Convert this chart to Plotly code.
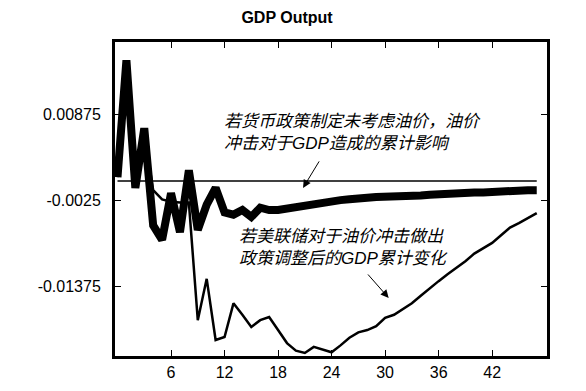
import plotly.graph_objects as go

periods = list(range(0, 48))

no_policy_response = [
    0.0005, 0.0158, -0.0009, 0.0069, -0.0058, -0.0077, -0.0016, -0.0067,
    0.0014, -0.0064, -0.0031, -0.0009, -0.0041, -0.0044, -0.0038, -0.0047,
    -0.0035, -0.0038, -0.0038, -0.0036, -0.0034, -0.0032, -0.0029, -0.0028,
    -0.0026, -0.0025, -0.0024, -0.0022, -0.0022, -0.0021, -0.0021, -0.0020,
    -0.0020, -0.0019, -0.0019, -0.0018, -0.0017, -0.0017, -0.0016, -0.0016,
    -0.0015, -0.0015, -0.0014, -0.0014, -0.0013, -0.0013, -0.0012, -0.0012,
]

fed_response = [
    0.0005, 0.0158, -0.0009, 0.0062, -0.0012, -0.0024, -0.0027, -0.0028,
    -0.0028, -0.0182, -0.0128, -0.0208, -0.0204, -0.0160, -0.0175, -0.0191,
    -0.0182, -0.0178, -0.0195, -0.0212, -0.0222, -0.0225, -0.0217, -0.0221,
    -0.0224, -0.0215, -0.0205, -0.0198, -0.0195, -0.0190, -0.0179, -0.0175,
    -0.0167, -0.0160, -0.0150, -0.0140, -0.0131, -0.0122, -0.0114, -0.0105,
    -0.0095, -0.0088, -0.0081, -0.0071, -0.0061, -0.0055, -0.0048, -0.0042,
]

baseline = [0.0 for _ in periods]

x_ticks = [6, 12, 18, 24, 30, 36, 42]
y_ticks = [0.00875, -0.0025, -0.01375]
y_tick_labels = ["0.00875", "-0.0025", "-0.01375"]

title_text = "GDP Output"
note_no_policy = "若货币政策制定未考虑油价，油价<br>冲击对于GDP造成的累计影响"
note_fed = "若美联储对于油价冲击做出<br>政策调整后的GDP累计变化"

FONT = "Liberation Sans, Arial, Noto Sans CJK SC, sans-serif"

fig = go.Figure()
fig.add_trace(go.Scatter(x=periods, y=baseline, mode="lines",
                         line=dict(color="black", width=1.5), hoverinfo="skip"))
fig.add_trace(go.Scatter(x=periods, y=no_policy_response, mode="lines",
                         line=dict(color="black", width=8)))
fig.add_trace(go.Scatter(x=periods, y=fed_response, mode="lines",
                         line=dict(color="black", width=2.5)))

fig.add_annotation(x=11.7, y=0.0064, xref="x", yref="y", text="<i>" + note_no_policy + "</i>",
                   showarrow=False, xanchor="left", yanchor="middle", align="left",
                   font=dict(family=FONT, size=17, color="black"))
fig.add_annotation(x=13.4, y=-0.0087, xref="x", yref="y", text="<i>" + note_fed + "</i>",
                   showarrow=False, xanchor="left", yanchor="middle", align="left",
                   font=dict(family=FONT, size=17, color="black"))

fig.add_annotation(x=20.8, y=-0.0009, xref="x", yref="y", ax=17, ay=-28,
                   text="", showarrow=True, arrowhead=2, arrowsize=1.6, arrowwidth=1,
                   arrowcolor="black")
fig.add_annotation(x=30.4, y=-0.0153, xref="x", yref="y", ax=-22, ay=-25,
                   text="", showarrow=True, arrowhead=2, arrowsize=1.6, arrowwidth=1,
                   arrowcolor="black")

fig.update_layout(
    width=586, height=391,
    margin=dict(l=107, r=47, t=34, b=43),
    paper_bgcolor="white", plot_bgcolor="white",
    showlegend=False,
    title=dict(text="<b>" + title_text + "</b>", x=(287 - 8) / 586, xanchor="center",
               y=1 - 4 / 391, yanchor="top", pad=dict(t=0, b=0),
               font=dict(family=FONT, size=16, color="black")),
    font=dict(family=FONT, size=16, color="black"),
)
fig.update_xaxes(range=[-0.28, 48.15], tickvals=x_ticks, ticks="inside", ticklen=6,
                 tickcolor="black", showline=True, linecolor="black", linewidth=3,
                 mirror="ticks", showgrid=False, zeroline=False,
                 tickfont=dict(family=FONT, size=16, color="black"))
fig.update_yaxes(range=[-0.02289, 0.01818], tickvals=y_ticks, ticktext=y_tick_labels,
                 ticks="inside", ticklen=6, tickcolor="black", showline=True,
                 linecolor="black", linewidth=3, mirror="ticks", showgrid=False,
                 zeroline=False, ticklabelstandoff=8,
                 tickfont=dict(family=FONT, size=16, color="black"))

fig.write_html("out.html")
